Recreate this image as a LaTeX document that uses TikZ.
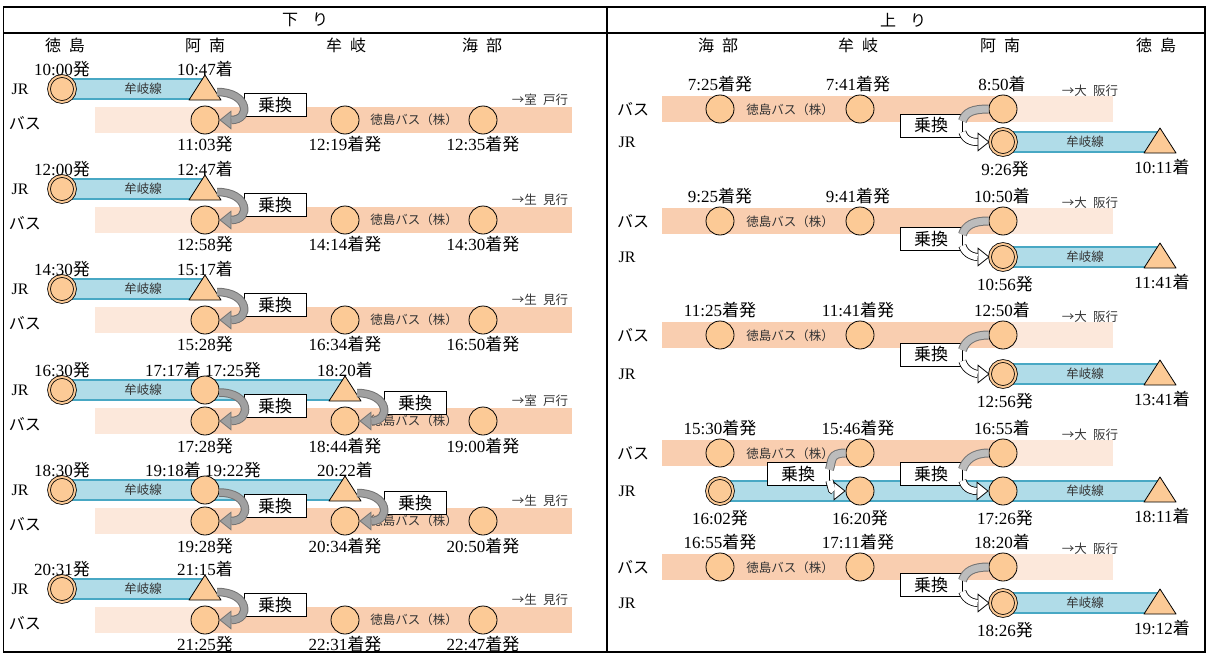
\documentclass[tikz,border=0pt]{standalone}
\usepackage{fontspec}
\setmainfont{Liberation Serif}
\newfontfamily\jpf{Noto Sans CJK JP}
\usepackage{tikz}
\usetikzlibrary{arrows.meta}

\definecolor{stfill}{RGB}{252,202,150}
\definecolor{jrfill}{RGB}{176,220,232}
\definecolor{jredge}{RGB}{72,168,196}
\definecolor{busdark}{RGB}{249,206,176}
\definecolor{buslite}{RGB}{252,232,219}
\definecolor{xgray}{RGB}{160,160,160}

\tikzset{
  stn/.style={circle, draw, line width=0.8pt, fill=stfill, minimum size=28pt, inner sep=0pt},
  orig/.style={stn, double=stfill, double distance=2pt, minimum size=26pt},
  tlab/.style={font=\fontsize{17}{20}\selectfont, inner sep=0pt},
  small/.style={font=\fontsize{12.5}{14}\selectfont\jpf, text=black!80, inner sep=0pt},
  rowlab/.style={font=\fontsize{16}{18}\selectfont, inner sep=0pt},
  hdr/.style={font=\fontsize{16}{18}\selectfont\jpf, inner sep=0pt},
  xbox/.style={draw, line width=0.8pt, fill=white, minimum width=62pt, minimum height=23pt, inner sep=0pt, font=\fontsize{17}{20}\selectfont\jpf},
  arrtri/.pic={
    \draw[line width=0.8pt, fill=stfill, line join=round] (-16,11) -- (0,-14) -- (16,11) -- cycle;
    \coordinate (-r) at (12,3);
  }
}

% JR band: y, from x, to x
\newcommand\jrband[3]{%
  \fill[jrfill] (#2,#1-10) rectangle (#3,#1+10);
  \draw[jredge, line width=2.2pt] (#2,#1-10) -- (#3,#1-10) (#2,#1+10) -- (#3,#1+10);}

% gray transfer arrow (kudari): start, bus node
\newcommand\xferdown[2]{%
  \draw[line width=8.5pt, black!55, -{Triangle[length=12pt,width=19pt,line width=0.8pt,fill=xgray]}]
    (#1) .. controls +(32,0) and +(32,0) .. (#2.east);
  \draw[line width=6.5pt, xgray, shorten >=12pt]
    (#1) .. controls +(32,0) and +(32,0) .. (#2.east);}

% transfer arrow (nobori): bus node, box, jr node
\newcommand\xferup[3]{%
  \draw[line width=9pt, black!55] (#1.west) .. controls +(-16,0) and +(3,-9) .. (#2.8);
  \draw[line width=7pt, xgray!70] (#1.west) .. controls +(-16,0) and +(3,-9) .. (#2.8);
  \draw[line width=8pt, black, -{Triangle[length=12pt,width=19pt,line width=0.8pt,fill=white]}]
    (#2.-12) .. controls +(3,10) and +(-14,0) .. (#3.west);
  \draw[line width=6.4pt, white, shorten >=12pt]
    (#2.-12) .. controls +(3,10) and +(-14,0) .. (#3.west);}

% kudari row: id, jr y, dep, arr, bus dep, mugi, kaifu, dest
\newcommand\downrow[8]{%
  \fill[buslite] (95,#2+18) rectangle (205,#2+44);
  \fill[busdark] (205,#2+18) rectangle (572,#2+44);
  \jrband{#2}{62}{205}
  \node[rowlab] (#1j) at (20,#2) {JR};
  \node[rowlab] (#1u) at (25,#2+34) {\jpf バス};
  \node[orig] (#1s) at (62,#2) {};
  \pic (#1a) at (205,#2) {arrtri};
  \node[stn] (#1b) at (205,#2+31) {};
  \node[stn] (#1n) at (345,#2+31) {};
  \node[stn] (#1k) at (483,#2+31) {};
  \node[small] (#1l) at (143,#2) {牟岐線};
  \node[small] (#1c) at (414,#2+31) {徳島バス（株）};
  \node[small] (#1d) at (540,#2+11) {→#8行};
  \node[tlab] (#1t1) at (62,#2-20) {#3{\jpf 発}};
  \node[tlab] (#1t2) at (205,#2-20) {#4{\jpf 着}};
  \node[tlab] (#1t3) at (205,#2+55) {#5{\jpf 発}};
  \node[tlab] (#1t4) at (345,#2+55) {#6{\jpf 着発}};
  \node[tlab] (#1t5) at (483,#2+55) {#7{\jpf 着発}};
  \node[xbox] (#1x) at (275,#2+16) {乗換};
  \xferdown{#1a-r}{#1b}}

% nobori row: id, bus y, jr y, kaifu, mugi, anan, jr dep, jr arr
\newcommand\uprow[8]{%
  \fill[busdark] (662,#2-13) rectangle (1003,#2+13);
  \fill[buslite] (1003,#2-13) rectangle (1113,#2+13);
  \jrband{#3}{1003}{1160}
  \node[rowlab] (#1u) at (633,#2) {\jpf バス};
  \node[rowlab] (#1j) at (627,#3) {JR};
  \node[stn] (#1k) at (720,#2) {};
  \node[stn] (#1n) at (860,#2) {};
  \node[stn] (#1b) at (1003,#2) {};
  \node[orig] (#1s) at (1003,#3) {};
  \pic (#1a) at (1160,#3) {arrtri};
  \node[small] (#1c) at (790,#2+1) {徳島バス（株）};
  \node[small] (#1d) at (1090,#2-18) {→大\enspace 阪行};
  \node[small] (#1l) at (1085,#3) {牟岐線};
  \node[tlab] (#1t1) at (720,#2-25) {#4{\jpf 着発}};
  \node[tlab] (#1t2) at (858,#2-25) {#5{\jpf 着発}};
  \node[tlab] (#1t3) at (1002,#2-25) {#6{\jpf 着}};
  \node[tlab] (#1t4) at (1005,#3+27) {#7{\jpf 発}};
  \node[tlab] (#1t5) at (1162,#3+25) {#8{\jpf 着}};
  \node[xbox] (#1x) at (931,{(#2+#3)/2}) {乗換};
  \xferup{#1b}{#1x}{#1s}}

\begin{document}
\begin{tikzpicture}[x=1pt,y=-1pt]
  \useasboundingbox (0,0) rectangle (1208,653);
  % frame
  \draw[line width=1.6pt] (3.5,7) rectangle (1205,652);
  \draw[line width=1.6pt] (3.5,33) -- (1205,33) (607,7) -- (607,652);
  \node[hdr] (hd) at (305,20) {下\hspace{14pt}り};
  \node[hdr] (hu) at (903,20) {上\hspace{14pt}り};
  \node[hdr] (sd1) at (65,45) {徳\enspace 島};
  \node[hdr] (sd2) at (205,45) {阿\enspace 南};
  \node[hdr] (sd3) at (346,45) {牟\enspace 岐};
  \node[hdr] (sd4) at (482,45) {海\enspace 部};
  \node[hdr] (su1) at (718,45) {海\enspace 部};
  \node[hdr] (su2) at (858,45) {牟\enspace 岐};
  \node[hdr] (su3) at (1000,45) {阿\enspace 南};
  \node[hdr] (su4) at (1156,45) {徳\enspace 島};

  % kudari
  \downrow{d1}{89}{10:00}{10:47}{11:03}{12:19}{12:35}{室\enspace 戸}
  \downrow{d2}{189}{12:00}{12:47}{12:58}{14:14}{14:30}{生\enspace 見}
  \downrow{d3}{289}{14:30}{15:17}{15:28}{16:34}{16:50}{生\enspace 見}

  % 16:30, two transfers
  \fill[buslite] (95,408) rectangle (205,434);
  \fill[busdark] (205,408) rectangle (572,434);
  \jrband{390}{62}{345}
  \node[rowlab] (d4j) at (20,390) {JR};
  \node[rowlab] (d4u) at (25,424) {\jpf バス};
  \node[orig] (d4s) at (62,390) {};
  \node[stn] (d4a) at (205,390) {};
  \pic (d4m) at (345,390) {arrtri};
  \node[stn] (d4b) at (205,421) {};
  \node[stn] (d4n) at (345,421) {};
  \node[stn] (d4k) at (483,421) {};
  \node[small] (d4l) at (143,390) {牟岐線};
  \node[small] (d4c) at (414,421) {徳島バス（株）};
  \node[small] (d4d) at (540,401) {→室\enspace 戸行};
  \node[tlab] (d4t1) at (62,370) {16:30{\jpf 発}};
  \node[tlab] (d4t2) at (203,370) {17:17{\jpf 着}\ 17:25{\jpf 発}};
  \node[tlab] (d4t3) at (345,370) {18:20{\jpf 着}};
  \node[tlab] (d4t4) at (205,446) {17:28{\jpf 発}};
  \node[tlab] (d4t5) at (345,446) {18:44{\jpf 着発}};
  \node[tlab] (d4t6) at (483,446) {19:00{\jpf 着発}};
  \node[xbox] (d4x1) at (275,406) {乗換};
  \node[xbox] (d4x2) at (415,403) {乗換};
  \xferdown{d4a.-10}{d4b}
  \xferdown{d4m-r}{d4n}

  % 18:30, two transfers
  \fill[buslite] (95,508) rectangle (205,534);
  \fill[busdark] (205,508) rectangle (572,534);
  \jrband{490}{62}{345}
  \node[rowlab] (d5j) at (20,490) {JR};
  \node[rowlab] (d5u) at (25,524) {\jpf バス};
  \node[orig] (d5s) at (62,490) {};
  \node[stn] (d5a) at (205,490) {};
  \pic (d5m) at (345,490) {arrtri};
  \node[stn] (d5b) at (205,521) {};
  \node[stn] (d5n) at (345,521) {};
  \node[stn] (d5k) at (483,521) {};
  \node[small] (d5l) at (143,490) {牟岐線};
  \node[small] (d5c) at (414,521) {徳島バス（株）};
  \node[small] (d5d) at (540,501) {→生\enspace 見行};
  \node[tlab] (d5t1) at (62,470) {18:30{\jpf 発}};
  \node[tlab] (d5t2) at (203,470) {19:18{\jpf 着}\ 19:22{\jpf 発}};
  \node[tlab] (d5t3) at (345,470) {20:22{\jpf 着}};
  \node[tlab] (d5t4) at (205,546) {19:28{\jpf 発}};
  \node[tlab] (d5t5) at (345,546) {20:34{\jpf 着発}};
  \node[tlab] (d5t6) at (483,546) {20:50{\jpf 着発}};
  \node[xbox] (d5x1) at (275,506) {乗換};
  \node[xbox] (d5x2) at (415,503) {乗換};
  \xferdown{d5a.-10}{d5b}
  \xferdown{d5m-r}{d5n}

  \downrow{d6}{589}{20:31}{21:15}{21:25}{22:31}{22:47}{生\enspace 見}

  % nobori
  \uprow{u1}{109}{142}{7:25}{7:41}{8:50}{9:26}{10:11}
  \uprow{u2}{221}{257}{9:25}{9:41}{10:50}{10:56}{11:41}
  \uprow{u3}{335}{374}{11:25}{11:41}{12:50}{12:56}{13:41}

  % 15:30, two transfers
  \fill[busdark] (662,440) rectangle (1003,466);
  \fill[buslite] (1003,440) rectangle (1113,466);
  \jrband{491}{720}{1160}
  \node[rowlab] (u4u) at (633,453) {\jpf バス};
  \node[rowlab] (u4j) at (627,491) {JR};
  \node[stn] (u4k) at (720,453) {};
  \node[stn] (u4n) at (860,453) {};
  \node[stn] (u4b) at (1003,453) {};
  \node[orig] (u4s) at (720,491) {};
  \node[stn] (u4g) at (860,491) {};
  \node[stn] (u4h) at (1003,491) {};
  \pic (u4a) at (1160,491) {arrtri};
  \node[small] (u4c) at (790,454) {徳島バス（株）};
  \node[small] (u4d) at (1090,435) {→大\enspace 阪行};
  \node[small] (u4l) at (1085,491) {牟岐線};
  \node[tlab] (u4t1) at (720,428) {15:30{\jpf 着発}};
  \node[tlab] (u4t2) at (858,428) {15:46{\jpf 着発}};
  \node[tlab] (u4t3) at (1002,428) {16:55{\jpf 着}};
  \node[tlab] (u4t4) at (720,518) {16:02{\jpf 発}};
  \node[tlab] (u4t5) at (860,518) {16:20{\jpf 発}};
  \node[tlab] (u4t6) at (1005,518) {17:26{\jpf 発}};
  \node[tlab] (u4t7) at (1162,516) {18:11{\jpf 着}};
  \node[xbox] (u4x1) at (798,474) {乗換};
  \node[xbox] (u4x2) at (931,474) {乗換};
  \xferup{u4n}{u4x1}{u4g}
  \xferup{u4b}{u4x2}{u4h}

  \uprow{u5}{567}{603}{16:55}{17:11}{18:20}{18:26}{19:12}
\end{tikzpicture}
\end{document}
